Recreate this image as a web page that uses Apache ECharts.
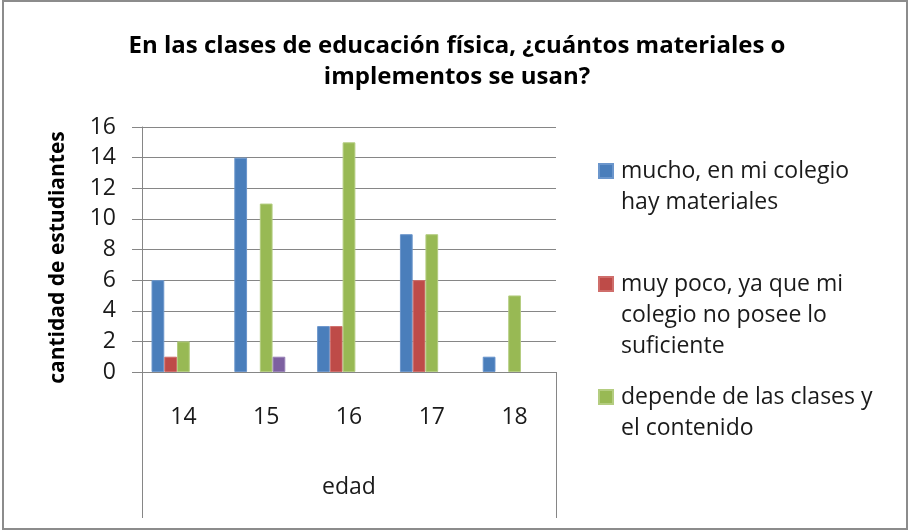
<!DOCTYPE html>
<html>
<head>
<meta charset="utf-8">
<title>educación física</title>
<script src="https://cdn.jsdelivr.net/npm/echarts@6/dist/echarts.min.js"></script>
<style>
  html, body { margin: 0; padding: 0; background: #fff; }
  #chart { width: 910px; height: 531px; }
</style>
</head>
<body>
<div id="chart"></div>
<script>
const edades = ['14', '15', '16', '17', '18']
const mucho = [6, 14, 3, 9, 1]
const muyPoco = [1, null, 3, 6, null]
const depende = [2, 11, 15, 9, 5]
const serie4 = [null, 1, null, null, null]
const serie5 = [null, null, null, null, null]

const nombres = [
  'mucho, en mi colegio\nhay materiales',
  'muy poco, ya que mi\ncolegio no posee lo\nsuficiente',
  'depende de las clases y\nel contenido',
  'serie 4',
  'serie 5'
]

const font = 'Open Sans'
const gris = '#868686'
const lh = 31

// the square sits on the first line: pad the text with empty lines above
function leyenda(name, top, lines) {
  return {
    data: [name],
    left: 598,
    top: top,
    padding: 0,
    orient: 'vertical',
    selectedMode: false,
    icon: 'rect',
    itemWidth: 14,
    itemHeight: 14,
    itemGap: 0,
    formatter: n => '\n'.repeat(lines - 1) + n,
    textStyle: {
      fontFamily: font,
      fontSize: 23,
      lineHeight: lh,
      color: '#1a1a1a',
      padding: [0, 0, 0, 3]
    }
  }
}

function barra(name, data, color, borde) {
  return {
    name: name,
    type: 'bar',
    data: data,
    barGap: '0%',
    barCategoryGap: '23%',
    itemStyle: {
      color: color,
      borderColor: borde,
      borderWidth: 1
    }
  }
}

const chart = echarts.init(document.getElementById('chart'))
chart.setOption({
  animation: false,
  title: {
    text: 'En las clases de educación física, ¿cuántos materiales o\nimplementos se usan?',
    left: 457,
    textAlign: 'center',
    top: 31,
    padding: 0,
    textStyle: {
      fontFamily: font,
      fontSize: 24,
      fontWeight: 'bold',
      lineHeight: 31,
      color: '#000'
    }
  },
  graphic: [{
    type: 'rect',
    shape: { x: 3, y: 1, width: 904, height: 528 },
    style: { fill: null, stroke: '#8c8c8c', lineWidth: 2 },
    silent: true
  }],
  legend: [
    leyenda(nombres[0], 171 - 1.5 * lh, 2),
    leyenda(nombres[1], 284 - 2.5 * lh, 3),
    leyenda(nombres[2], 397 - 1.5 * lh, 2)
  ],
  grid: {
    left: 142,
    top: 127,
    width: 414,
    height: 245
  },
  xAxis: {
    type: 'category',
    data: edades,
    name: 'edad',
    nameLocation: 'middle',
    nameGap: 104,
    nameTextStyle: { fontFamily: font, fontSize: 23, color: '#1a1a1a' },
    axisLine: { lineStyle: { color: gris, width: 1 } },
    axisTick: { show: true, interval: 5, length: 146, lineStyle: { color: gris, width: 1 } },
    axisLabel: { fontFamily: font, fontSize: 23, color: '#1a1a1a', margin: 34 },
    splitLine: { show: false }
  },
  yAxis: {
    type: 'value',
    min: 0,
    max: 16,
    interval: 2,
    name: 'cantidad de estudiantes',
    nameLocation: 'middle',
    nameGap: 73,
    nameTextStyle: {
      fontFamily: font,
      fontSize: 21,
      fontWeight: 'bold',
      color: '#000',
      padding: [0, 16, 0, 0]
    },
    axisLine: { show: true, lineStyle: { color: gris, width: 1 } },
    axisTick: { show: true, length: 10, lineStyle: { color: gris, width: 1 } },
    axisLabel: { fontFamily: font, fontSize: 23, color: '#1a1a1a', margin: 26 },
    splitLine: { lineStyle: { color: gris, width: 1 } }
  },
  series: [
    barra(nombres[0], mucho, '#4a7ebb', '#6b96cc'),
    barra(nombres[1], muyPoco, '#be4b48', '#cf6e6b'),
    barra(nombres[2], depende, '#98b954', '#b4cd80'),
    barra(nombres[3], serie4, '#7d60a0', '#9a83b8'),
    barra(nombres[4], serie5, '#4bacc6', '#7cc4d7')
  ]
})
</script>
</body>
</html>
